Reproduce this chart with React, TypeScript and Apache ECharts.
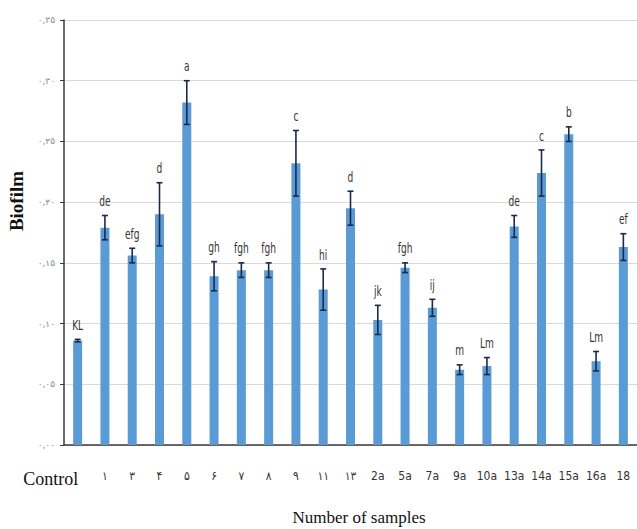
import React, { useEffect, useRef } from "react";
import * as echarts from "echarts";

const categories = ["Control", "۱", "۳", "۴", "۵", "۶", "۷", "۸", "۹", "۱۱", "۱۳", "2a", "5a", "7a", "9a", "10a", "13a", "14a", "15a", "16a", "18"];
const values = [0.086, 0.179, 0.156, 0.190, 0.282, 0.139, 0.144, 0.144, 0.232, 0.128, 0.195, 0.103, 0.146, 0.113, 0.062, 0.065, 0.180, 0.224, 0.256, 0.069, 0.163];
const errors = [0.001, 0.010, 0.006, 0.026, 0.018, 0.012, 0.006, 0.006, 0.027, 0.017, 0.014, 0.012, 0.004, 0.007, 0.004, 0.007, 0.009, 0.019, 0.006, 0.008, 0.011];
const letters = ["KL", "de", "efg", "d", "a", "gh", "fgh", "fgh", "c", "hi", "d", "jk", "fgh", "ij", "m", "Lm", "de", "c", "b", "Lm", "ef"];
const yMin = 0;
const yMax = 0.35;
const yStep = 0.05;

const persianDigits = ["۰", "۱", "۲", "۳", "۴", "۵", "۶", "۷", "۸", "۹"];
const toPersian = (s: string) => s.replace(/[0-9]/g, (d) => persianDigits[Number(d)]).replace(".", ",");

export default function App() {
  const ref = useRef<HTMLDivElement>(null);
  useEffect(() => {
    if (!ref.current) return;
    const chart = echarts.init(ref.current, null, { renderer: "svg" });
    const narrow = "'Liberation Sans Narrow', 'DejaVu Sans Condensed', 'DejaVu Sans', sans-serif";
    chart.setOption({
      animation: false,
      backgroundColor: "#ffffff",
      grid: { left: 64, top: 20, width: 576, height: 425 },
      xAxis: {
        type: "category",
        data: categories,
        axisLine: { lineStyle: { color: "#3a3a3a", width: 1.5 } },
        axisTick: { alignWithLabel: true, length: 4, lineStyle: { color: "#3a3a3a" } },
        axisLabel: {
          interval: 0,
          margin: 25,
          color: "#333333",
          fontFamily: narrow,
          fontSize: 12,
          formatter: (v: string) => (v === "Control" ? "{c|" + v + "}" : v),
          rich: {
            c: {
              fontFamily: "'Liberation Serif', 'Times New Roman', serif",
              fontSize: 18,
              color: "#111111",
              padding: [0, 54, 0, 0],
            },
          },
        },
      },
      yAxis: {
        type: "value",
        min: yMin,
        max: yMax,
        interval: yStep,
        axisLine: { show: true, lineStyle: { color: "#3a3a3a", width: 1.5 } },
        axisTick: { show: true, length: 4, lineStyle: { color: "#3a3a3a" } },
        splitLine: { lineStyle: { color: "#d9d9d9", width: 1 } },
        axisLabel: {
          margin: 9,
          color: "#888888",
          fontFamily: "'DejaVu Sans', sans-serif",
          fontSize: 9,
          formatter: (v: number) => toPersian(v.toFixed(2)),
        },
      },
      graphic: [
        {
          type: "text",
          x: 16,
          y: 201,
          rotation: Math.PI / 2,
          style: {
            text: "Biofilm",
            font: "bold 19px 'Liberation Serif', 'Times New Roman', serif",
            fill: "#111111",
            align: "center",
            verticalAlign: "middle",
          },
        },
        {
          type: "text",
          x: 359,
          y: 517,
          style: {
            text: "Number of samples",
            font: "17px 'Liberation Serif', 'Times New Roman', serif",
            fill: "#111111",
            align: "center",
            verticalAlign: "middle",
          },
        },
      ],
      series: [
        {
          type: "bar",
          data: values,
          barWidth: 9,
          itemStyle: { color: "#5b9bd5" },
        },
        {
          type: "custom",
          data: values.map((v, i) => [i, v, errors[i]]),
          z: 10,
          renderItem: (params: any, api: any) => {
            const i = api.value(0);
            const v = api.value(1);
            const e = api.value(2);
            const top = api.coord([i, v + e]);
            const bot = api.coord([i, v - e]);
            const cap = 3;
            const style = { stroke: "#1b2a48", lineWidth: 1.6 };
            return {
              type: "group",
              children: [
                { type: "line", shape: { x1: top[0], y1: top[1], x2: bot[0], y2: bot[1] }, style },
                { type: "line", shape: { x1: top[0] - cap, y1: top[1], x2: top[0] + cap, y2: top[1] }, style },
                { type: "line", shape: { x1: bot[0] - cap, y1: bot[1], x2: bot[0] + cap, y2: bot[1] }, style },
                {
                  type: "text",
                  x: top[0],
                  y: top[1] - 14,
                  scaleX: 0.72,
                  style: {
                    text: letters[params.dataIndex],
                    font: "14px " + narrow,
                    fill: "#333333",
                    align: "center",
                    verticalAlign: "middle",
                  },
                },
              ],
            };
          },
        },
      ],
    });
    return () => chart.dispose();
  }, []);
  return <div ref={ref} style={{ position: "fixed", left: 0, top: 0, width: 637, height: 529 }} />;
}
